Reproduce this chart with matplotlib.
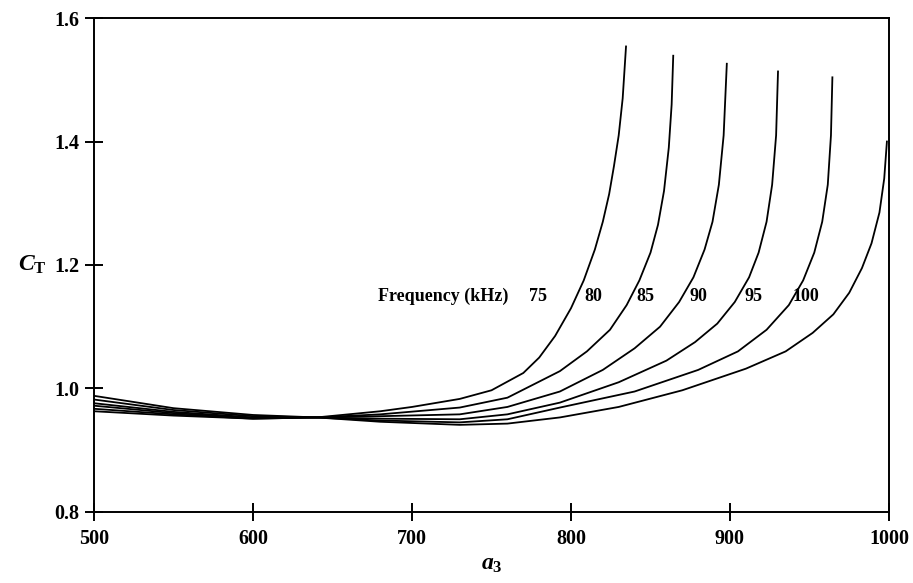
import matplotlib
matplotlib.use("Agg")
import matplotlib.pyplot as plt

plt.rcParams['font.family'] = ['Liberation Serif', 'DejaVu Serif']
plt.rcParams['font.weight'] = 'bold'
plt.rcParams['mathtext.fontset'] = 'custom'
plt.rcParams['mathtext.it'] = 'Liberation Serif:italic:bold'
plt.rcParams['mathtext.rm'] = 'Liberation Serif:bold'

# ---- data ----
frequencies = ["75", "80", "85", "90", "95", "100"]

a3_75 = [500, 550, 600, 640, 680, 700, 730, 750, 770, 780, 790, 800, 808, 815, 820, 824, 827, 830, 832.5, 834.6]
ct_75 = [0.963, 0.956, 0.951, 0.953, 0.963, 0.970, 0.983, 0.997, 1.025, 1.050, 1.085, 1.130, 1.175, 1.225, 1.270, 1.315, 1.360, 1.410, 1.470, 1.554]

a3_80 = [500, 550, 600, 640, 680, 730, 760, 793, 810, 824.5, 835, 843, 850, 854.7, 858.5, 861.5, 863.3, 864.3]
ct_80 = [0.967, 0.958, 0.951, 0.953, 0.958, 0.969, 0.985, 1.028, 1.060, 1.095, 1.135, 1.175, 1.220, 1.265, 1.320, 1.390, 1.460, 1.539]

a3_85 = [500, 550, 600, 640, 680, 730, 760, 793, 820, 840, 856, 868, 877, 884, 889, 893, 896, 898]
ct_85 = [0.972, 0.960, 0.952, 0.953, 0.955, 0.958, 0.970, 0.995, 1.030, 1.065, 1.100, 1.140, 1.180, 1.225, 1.270, 1.330, 1.410, 1.526]

a3_90 = [500, 550, 600, 640, 680, 730, 760, 793, 830, 860, 878, 892, 903, 912, 918, 923, 926.5, 929, 930.2]
ct_90 = [0.976, 0.962, 0.953, 0.953, 0.951, 0.950, 0.958, 0.977, 1.010, 1.045, 1.075, 1.105, 1.140, 1.180, 1.220, 1.270, 1.330, 1.410, 1.5135]

a3_95 = [500, 550, 600, 640, 680, 730, 760, 793, 840, 880, 905, 923, 937, 946, 953, 958, 961.5, 963.5, 964.4]
ct_95 = [0.982, 0.965, 0.955, 0.953, 0.948, 0.945, 0.950, 0.969, 0.995, 1.030, 1.060, 1.095, 1.135, 1.175, 1.220, 1.270, 1.330, 1.410, 1.504]

a3_100 = [500, 550, 600, 640, 680, 730, 760, 793, 830, 870, 910, 935, 952, 965, 975, 983, 989, 994, 997, 998.7]
ct_100 = [0.988, 0.968, 0.957, 0.953, 0.946, 0.941, 0.943, 0.953, 0.970, 0.997, 1.032, 1.060, 1.090, 1.120, 1.155, 1.195, 1.235, 1.285, 1.340, 1.400]

curves = [(a3_75, ct_75), (a3_80, ct_80), (a3_85, ct_85),
          (a3_90, ct_90), (a3_95, ct_95), (a3_100, ct_100)]
label_x = [779, 814, 847, 880, 915, 948]

x_ticks = [500, 600, 700, 800, 900, 1000]
y_ticks = [0.8, 1.0, 1.2, 1.4, 1.6]

# ---- plot ----
fig = plt.figure(figsize=(9.13, 5.83), dpi=100)
ax = fig.add_axes([0.103, 0.122, 0.8707, 0.847])

for xs, ys in curves:
    ax.plot(xs, ys, color='black', lw=1.3, solid_joinstyle='round')

ax.set_xlim(500, 1000)
ax.set_ylim(0.8, 1.6)
ax.set_xticks(x_ticks)
ax.set_xticklabels([str(v) for v in x_ticks])
ax.set_yticks(y_ticks)
ax.set_yticklabels([f"{v:.1f}" for v in y_ticks])
ax.tick_params(direction='inout', length=13, width=1.4, labelsize=14.5)
ax.tick_params(axis='x', pad=6)
ax.tick_params(axis='y', pad=4)
for s in ax.spines.values():
    s.set_linewidth(1.4)

ax.text(760.4, 1.149, "Frequency (kHz)", ha='right', va='center', fontsize=13, fontweight='bold')
for lx, lab in zip(label_x, frequencies):
    ax.text(lx, 1.149, lab, ha='center', va='center', fontsize=13, fontweight='bold')

ax.set_xlabel(r"$a_3$", fontsize=17)
ax.set_ylabel(r"$C_\mathrm{T}$", fontsize=17, rotation=0, va='center', ha='center')
ax.xaxis.set_label_coords(0.5, -0.085)
ax.yaxis.set_label_coords(-0.078, 0.5)

fig.savefig("out.png", dpi=100)
